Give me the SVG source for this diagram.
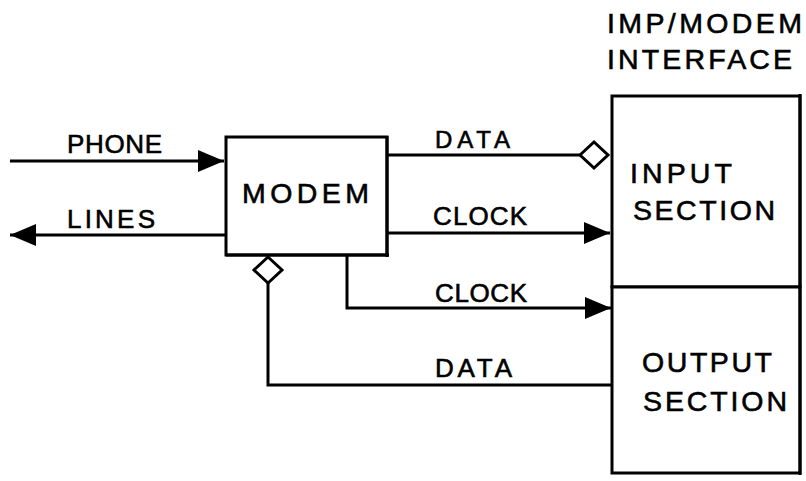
<svg xmlns="http://www.w3.org/2000/svg" width="806" height="481" viewBox="0 0 806 481">
<defs>
<style>
.box{fill:#fff;stroke:#000;stroke-width:3}
.ln{fill:none;stroke:#000;stroke-width:3;stroke-linejoin:miter}
.dia{fill:#fff;stroke:#000;stroke-width:3}
text{font-family:"Liberation Sans",Arial,sans-serif;fill:#000;stroke:#000;stroke-width:0.6}
.lbl{font-size:26px}
.big{font-size:28.5px}
</style>
<marker id="arr" markerUnits="userSpaceOnUse" markerWidth="28" markerHeight="24" refX="26" refY="11" orient="auto" viewBox="0 0 28 24">
<path d="M0,0 L26,11 L0,22 Z" fill="#000"/>
</marker>
</defs>
<rect width="806" height="481" fill="#fff"/>
<g id="connectors">
<line class="ln" x1="10" y1="161" x2="224" y2="161" marker-end="url(#arr)"/>
<line class="ln" x1="226" y1="235" x2="10" y2="235" marker-end="url(#arr)"/>
<line class="ln" x1="387" y1="155" x2="580" y2="155"/>
<polygon class="dia" points="580,155 594,142 608,155 594,168"/>
<line class="ln" x1="387" y1="233" x2="610" y2="233" marker-end="url(#arr)"/>
<polyline class="ln" points="347,256 347,308 611,308" marker-end="url(#arr)"/>
<polyline class="ln" points="268,283 268,385 612,385"/>
<polygon class="dia" points="268,257 282,270 268,283 254,270"/>
<text class="lbl" x="67" y="153" textLength="95" lengthAdjust="spacing">PHONE</text>
<text class="lbl" x="67" y="228" textLength="88" lengthAdjust="spacing">LINES</text>
<text class="lbl" x="435" y="148" textLength="75" lengthAdjust="spacing" style="font-size:24px">DATA</text>
<text class="lbl" x="433" y="225" textLength="94" lengthAdjust="spacing">CLOCK</text>
<text class="lbl" x="435" y="302" textLength="92" lengthAdjust="spacing">CLOCK</text>
<text class="lbl" x="435" y="377" textLength="77" lengthAdjust="spacing">DATA</text>
</g>
<g id="modem">
<rect class="box" x="226" y="137" width="161" height="118"/>
<line class="ln" x1="387" y1="136" x2="387" y2="257" stroke-width="4"/>
<line class="ln" x1="226" y1="255" x2="389" y2="255" stroke-width="4"/>
<text class="big" x="242" y="203" textLength="127" lengthAdjust="spacing">MODEM</text>
</g>
<g id="interface">
<text class="big" x="607" y="33" textLength="195" lengthAdjust="spacing">IMP/MODEM</text>
<text class="big" x="607" y="69" textLength="185" lengthAdjust="spacing">INTERFACE</text>
</g>
<g id="input-section">
<rect class="box" x="612" y="96" width="188" height="191"/>
<text class="big" x="630" y="183" textLength="102" lengthAdjust="spacing">INPUT</text>
<text class="big" x="633" y="220" textLength="142" lengthAdjust="spacing">SECTION</text>
</g>
<g id="output-section">
<rect class="box" x="612" y="287" width="188" height="186"/>
<text class="big" x="642" y="372" textLength="130" lengthAdjust="spacing">OUTPUT</text>
<text class="big" x="643" y="411" textLength="144" lengthAdjust="spacing">SECTION</text>
</g>
<line class="ln" x1="800" y1="94" x2="800" y2="475" stroke-width="5"/>
</svg>
